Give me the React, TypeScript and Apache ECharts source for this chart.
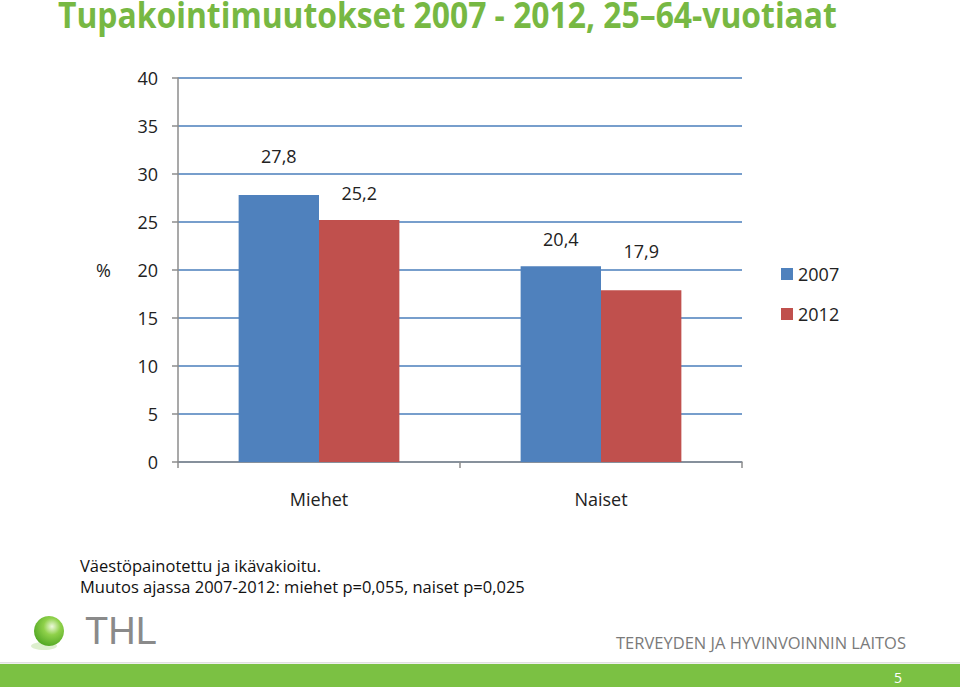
import React, { useEffect, useRef } from "react";
import * as echarts from "echarts";

const categories = ["Miehet", "Naiset"];
const years = ["2007", "2012"];
const values2007 = [27.8, 20.4];
const values2012 = [25.2, 17.9];
const labelOffsets2007 = [30, 18];
const labelOffsets2012 = [18, 30];
const yTicks = { min: 0, max: 40, interval: 5 };

const fmt = (v: number) => v.toFixed(1).replace(".", ",");

export default function App() {
  const ref = useRef<HTMLDivElement>(null);
  useEffect(() => {
    document.body.style.margin = "0";
    const chart = echarts.init(ref.current!, null, { renderer: "svg" });
    const font = "'Open Sans', sans-serif";
    const mk = (vals: number[], offs: number[]) =>
      vals.map((v, i) => ({
        value: v,
        label: { show: true, position: "top", distance: offs[i], formatter: fmt(v) },
      }));
    chart.setOption({
      animation: false,
      backgroundColor: "#ffffff",
      textStyle: { fontFamily: font },
      grid: { left: 178, right: 218, top: 78, bottom: 225 },
      legend: {
        orient: "vertical",
        left: 776,
        top: 260,
        itemWidth: 12,
        itemHeight: 12,
        itemGap: 22,
        icon: "rect",
        textStyle: { fontSize: 18, color: "#222", fontFamily: font },
        data: years,
      },
      xAxis: {
        type: "category",
        data: categories,
        axisLine: { lineStyle: { color: "#8c8c8c", width: 1.5 } },
        axisTick: { show: true, interval: 0, length: 6, lineStyle: { color: "#8c8c8c", width: 1.5 } },
        axisLabel: { fontSize: 18, color: "#222", margin: 28, fontFamily: font },
      },
      yAxis: {
        type: "value",
        min: yTicks.min,
        max: yTicks.max,
        interval: yTicks.interval,
        name: "%",
        nameLocation: "middle",
        nameRotate: 0,
        nameGap: 67,
        nameTextStyle: { fontSize: 18, color: "#222", fontFamily: font },
        axisLine: { show: true, lineStyle: { color: "#8c8c8c", width: 1.5 } },
        axisTick: { show: true, length: 6, lineStyle: { color: "#8c8c8c", width: 1.5 } },
        axisLabel: { fontSize: 18, color: "#222", margin: 20, fontFamily: font },
        splitLine: { lineStyle: { color: "#4A7EBB", width: 1.5 } },
      },
      series: [
        {
          name: years[0],
          type: "bar",
          data: mk(values2007, labelOffsets2007),
          itemStyle: { color: "#4F81BD" },
          barGap: "0%",
          barCategoryGap: "43%",
          label: { fontSize: 18, color: "#222", fontFamily: font },
        },
        {
          name: years[1],
          type: "bar",
          data: mk(values2012, labelOffsets2012),
          itemStyle: { color: "#C0504D" },
          barGap: "0%",
          barCategoryGap: "43%",
          label: { fontSize: 18, color: "#222", fontFamily: font },
        },
      ],
      graphic: [
        {
          type: "text",
          x: 58,
          y: -3,
          scaleX: 0.91,
          style: {
            text: "Tupakointimuutokset 2007 - 2012, 25–64-vuotiaat",
            fill: "#77B843",
            font: "bold 35px 'Open Sans', sans-serif",
            verticalAlign: "top",
          },
        },
        {
          type: "text",
          left: 80,
          top: 555,
          style: {
            text: "Väestöpainotettu ja ikävakioitu.\nMuutos ajassa 2007-2012: miehet p=0,055, naiset p=0,025",
            fill: "#111",
            font: "16.5px 'Open Sans', sans-serif",
            lineHeight: 21,
          },
        },
        {
          type: "ellipse",
          shape: { cx: 44, cy: 646, rx: 13, ry: 4 },
          style: { fill: "rgba(120,190,60,0.25)" },
        },
        {
          type: "circle",
          shape: { cx: 49, cy: 631, r: 15 },
          style: {
            fill: new echarts.graphic.RadialGradient(0.6, 0.35, 0.8, [
              { offset: 0, color: "#eef9dc" },
              { offset: 0.35, color: "#8fd14a" },
              { offset: 1, color: "#3f9a18" },
            ]),
          },
        },
        {
          type: "text",
          left: 85,
          top: 612,
          style: { text: "THL", fill: "#8a8a8a", font: "38px 'Liberation Sans', sans-serif" },
        },
        {
          type: "text",
          left: 616,
          top: 634,
          style: {
            text: "TERVEYDEN JA HYVINVOINNIN LAITOS",
            fill: "#7a7a7a",
            font: "16.5px 'Open Sans', sans-serif",
          },
        },
        {
          type: "rect",
          shape: { x: 0, y: 662, width: 960, height: 1.5 },
          style: { fill: "#e0e0e0" },
        },
        {
          type: "rect",
          shape: { x: 0, y: 664, width: 960, height: 23 },
          style: { fill: "#7BC143" },
        },
        {
          type: "text",
          left: 894,
          top: 670,
          style: { text: "5", fill: "#ffffff", font: "14px 'Open Sans', sans-serif" },
        },
      ],
    });
    return () => chart.dispose();
  }, []);
  return (
    <div
      ref={ref}
      style={{ position: "absolute", left: 0, top: 0, width: 960, height: 687 }}
    />
  );
}
